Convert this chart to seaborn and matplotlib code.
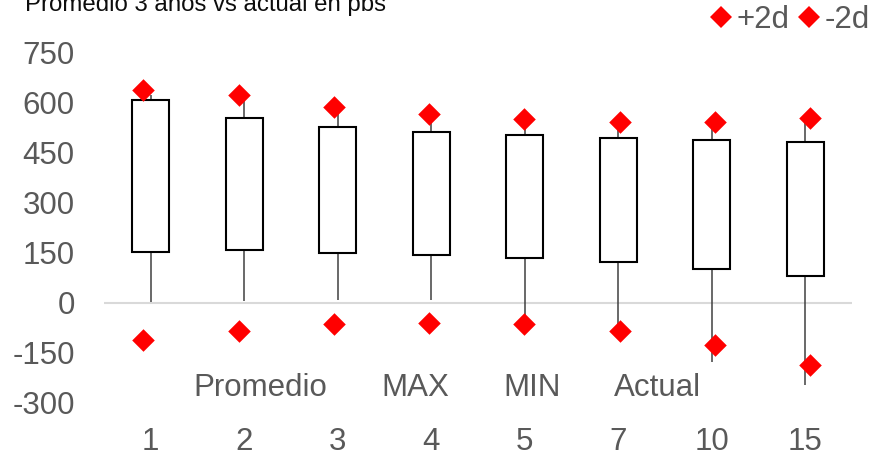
import numpy as np
import matplotlib
matplotlib.use("Agg")
import matplotlib.pyplot as plt
from matplotlib.lines import Line2D
import seaborn as sns

# data (pbs)
plazos = ['1', '2', '3', '4', '5', '7', '10', '15']
promedio = [154, 158, 151, 144, 136, 122, 102, 80]
actual = [609, 556, 527, 514, 504, 495, 488, 482]
maximo = [625, 612, 578, 555, 542, 530, 530, 545]
minimo = [3, 6, 9, 9, -50, -75, -176, -246]
mas_2d = [639, 624, 589, 566, 553, 542, 544, 554]
menos_2d = [-111, -84, -64, -59, -63, -84, -127, -187]
yticks = [-300, -150, 0, 150, 300, 450, 600, 750]

sns.set_theme(style='white')
plt.rcParams['font.family'] = ['Liberation Sans', 'DejaVu Sans']

gray = '#595959'
fs = 22.5

fig = plt.figure(figsize=(8.77, 4.54), dpi=100)
ax = fig.add_axes([104/877, 51/454, 748/877, 350/454])

x = np.arange(len(plazos))
altura = np.array(actual) - np.array(promedio)

# whiskers min -> max
ax.vlines(x, minimo, maximo, colors='#404040', linewidth=1.1, zorder=1.5)
ax.axhline(0, color='#d9d9d9', linewidth=1.5, zorder=1)

# boxes promedio -> actual
sns.barplot(x=plazos, y=altura, bottom=promedio, ax=ax, color='white',
            saturation=1, edgecolor='black', linewidth=1.5, width=0.4,
            errorbar=None, zorder=2)

ax.set_xlim(-0.5, len(plazos) - 0.5)
ax.set_ylim(-300, 750)
ax.set_yticks(yticks)
ax.set_yticklabels([str(v) for v in yticks])
ax.tick_params(axis='y', length=0, pad=21, labelsize=fs, labelcolor=gray)
ax.tick_params(axis='x', length=0, pad=17, labelsize=fs, labelcolor=gray)
ax.set_xlabel('')
ax.set_ylabel('')
for s in ax.spines.values():
    s.set_visible(False)

# +2d / -2d markers sit on a secondary axis (slightly different spacing)
ax2 = ax.twiny()
ax2.set_xlim(-0.413, 7.44)
sns.scatterplot(x=x, y=mas_2d, ax=ax2, marker='D', s=132, color='#ff0000',
                linewidth=0, zorder=3)
sns.scatterplot(x=x, y=menos_2d, ax=ax2, marker='D', s=132, color='#ff0000',
                linewidth=0, zorder=3)
ax2.set_xticks([])
ax2.set_xlabel('')
ax2.set_ylabel('')
for s in ax2.spines.values():
    s.set_visible(False)
ax.set_ylim(-300, 750)

# title
fig.text(25/877, 1 - 11/454, 'Promedio 3 años vs actual en pbs', fontsize=17.3,
         color='#0d0d0d', va='baseline', ha='left')

# legend of the stock series (no visible handles)
nombres = ['Promedio', 'MAX', 'MIN', 'Actual']
vacios = [Line2D([], [], linestyle='none') for _ in nombres]
fig.legend(vacios, nombres, loc='center left', bbox_to_anchor=(193/877, 1 - 388/454),
           ncol=4, frameon=False, handlelength=0, handletextpad=0,
           columnspacing=1.73, borderpad=0, borderaxespad=0, fontsize=fs,
           labelcolor=gray)

# legend +2d / -2d
rombos = [Line2D([], [], linestyle='none', marker='D', markersize=11.5,
                 markerfacecolor='#ff0000', markeredgewidth=0) for _ in range(2)]
fig.legend(rombos, ['+2d', '-2d'], loc='center right', bbox_to_anchor=(870/877, 1 - 20/454),
           ncol=2, frameon=False, handlelength=0.72, handletextpad=0.13,
           columnspacing=0.28, borderpad=0, borderaxespad=0, fontsize=fs,
           labelcolor=gray)

fig.savefig('out.png', dpi=100)
